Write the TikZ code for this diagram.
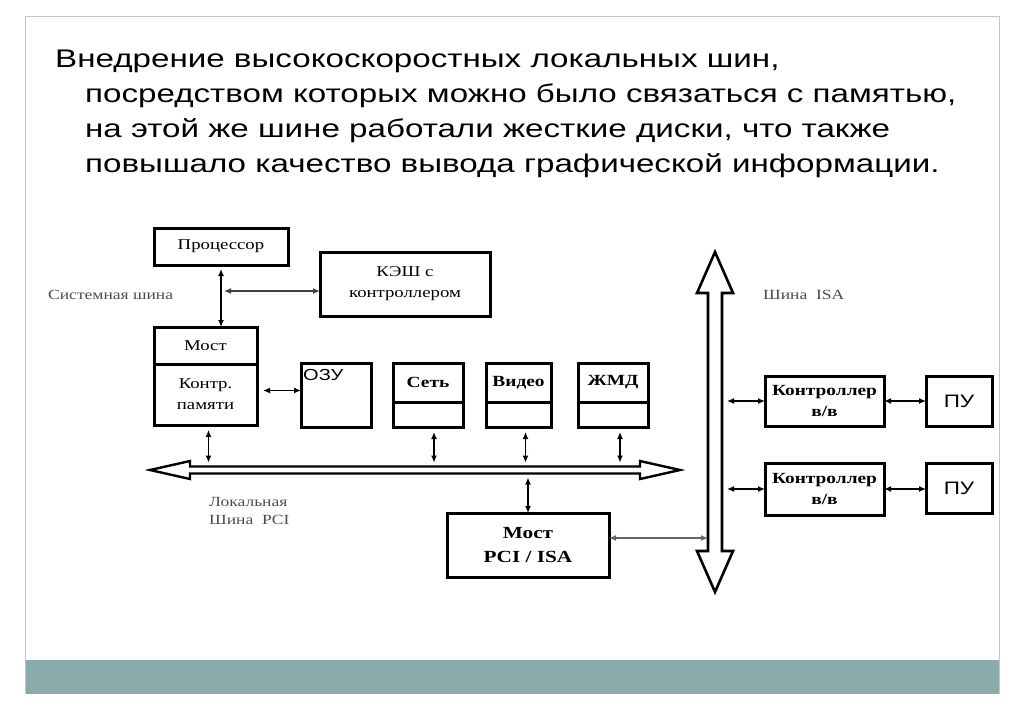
\documentclass[tikz,border=0pt]{standalone}
\usepackage{fontspec}
\setmainfont{Liberation Serif}
\newfontfamily\titlefont{Liberation Sans}[FakeStretch=1.3]
\newfontfamily\boxfont{Liberation Serif}[FakeStretch=1.25]
\newfontfamily\sansbox{Liberation Sans}[FakeStretch=1.25]
\usetikzlibrary{arrows.meta,positioning,calc}
\definecolor{bandteal}{RGB}{138,171,171}
\definecolor{framegray}{RGB}{195,198,198}
\tikzstyle{block} = [draw, rectangle, line width=3pt, outer sep=0pt,
    inner sep=0pt, align=center, font=\boxfont\fontsize{15}{21}\selectfont]
\tikzstyle{boldblock} = [block, font=\boxfont\bfseries\fontsize{15.5}{21}\selectfont]
\tikzstyle{buslabel} = [inner sep=0pt, align=left, text=black!70,
    font=\boxfont\fontsize{14}{18}\selectfont]
\tikzstyle{bus} = [draw, line width=2.6pt, fill=white, line join=miter]
\tikzstyle{coord} = [coordinate]
\tikzstyle{connector} = [{Latex[length=7pt,width=6pt]}-{Latex[length=7pt,width=6pt]}, line width=1.3pt]

\begin{document}
\begin{tikzpicture}[x=1pt,y=-1pt]
		\useasboundingbox (0,0) rectangle (1024,724);
		% slide frame
		\fill[bandteal] (25,660) rectangle (999,694);
		\draw[framegray, line width=1pt] (25,694) -- (25,16) -- (999,16) -- (999,694);
		
		\node[anchor=north west, inner sep=0pt, align=left,
		      font=\titlefont\fontsize{25.5}{35}\selectfont] (title) at (55,50)
		  {Внедрение высокоскоростных локальных шин,\\
		   \hspace*{30pt}посредством которых можно было связаться с памятью,\\
		   \hspace*{30pt}на этой же шине работали жесткие диски, что также\\
		   \hspace*{30pt}повышало качество вывода графической информации.};
		
		% buses
		\draw[bus, line width=2.4pt] (150,470) -- (190,461) -- (190,466.5) -- (640,466.5) -- (640,461) -- (680,470)
		  -- (640,479) -- (640,473.5) -- (190,473.5) -- (190,479) -- cycle;
		\draw[bus] (715,252) -- (733,293) -- (722,293) -- (722,551) -- (733,551) -- (715,592)
		  -- (697,551) -- (708,551) -- (708,293) -- (697,293) -- cycle;
		\node[coord] (pcitop) at (0,466.5) {};
		\node[coord] (pcibot) at (0,473.5) {};
		\node[coord] (isaleft) at (708,0) {};
		\node[coord] (isaright) at (722,0) {};
		\node[coord] (sysbus) at (221,291) {};
		
		\node[block, minimum width=134pt, minimum height=37pt] (cpu) at (221,246.5) {Процессор};
		\node[block, minimum width=170pt, minimum height=64pt] (cache) at (405,284) {КЭШ с\\контроллером};
		\node[block, minimum width=103pt, minimum height=37pt] (most) at (205.5,345.5) {Мост};
		\node[block, minimum width=103pt, minimum height=61pt, below=0pt of most] (memctl) {Контр.\\памяти};
		
		\node[block, minimum width=70pt, minimum height=64pt] (ozu) at (336,395) {};
		\node[anchor=north west, inner sep=0pt, font=\sansbox\fontsize{16}{18}\selectfont] (ozutxt)
		  at ([shift={(2pt,-6pt)}]ozu.north west) {ОЗУ};
		
		\node[boldblock, minimum width=70pt, minimum height=39pt] (net) at (428,382.5) {Сеть};
		\node[block, minimum width=70pt, minimum height=25pt, below=0pt of net] (netlow) {};
		\node[boldblock, minimum width=65pt, minimum height=39pt] (video) at (518.5,382.5) {Видео};
		\node[block, minimum width=65pt, minimum height=25pt, below=0pt of video] (videolow) {};
		\node[boldblock, minimum width=70pt, minimum height=39pt] (hdd) at (613,382.5) {ЖМД};
		\node[block, minimum width=70pt, minimum height=25pt, below=0pt of hdd] (hddlow) {};
		
		\node[boldblock, minimum width=162pt, minimum height=64pt,
		      font=\boxfont\bfseries\fontsize{17}{24}\selectfont] (bridge) at (528,545) {Мост\\PCI / ISA};
		
		\node[boldblock, minimum width=119pt, minimum height=50pt] (ctrla) at (824.5,401) {Контроллер\\в/в};
		\node[block, minimum width=66pt, minimum height=50pt, font=\sansbox\fontsize{18}{20}\selectfont] (pua) at (959,401) {ПУ};
		\node[boldblock, minimum width=119pt, minimum height=52pt] (ctrlb) at (824.5,489) {Контроллер\\в/в};
		\node[block, minimum width=66pt, minimum height=50pt, font=\sansbox\fontsize{18}{20}\selectfont] (pub) at (959,488) {ПУ};
		
		\node[buslabel, anchor=west] (syslabel) at (48,295) {Системная шина};
		\node[buslabel, anchor=north west] (pcilabel) at (209,497) {Локальная\\Шина\ \ PCI};
		\node[buslabel, anchor=west] (isalabel) at (763,295) {Шина\ \ ISA};
		
		\draw[connector, shorten <=4pt] (cpu.south) to (cpu.south |- most.north);
		\draw[connector, black!75, shorten <=3pt] (sysbus) to (sysbus -| cache.west);
		\draw[connector, shorten <=6pt] ([yshift=4pt]memctl.east) to ([yshift=4pt]memctl.east -| ozu.west);
		
		\draw[connector, shorten <=5pt, shorten >=4pt] ([xshift=3pt]memctl.south) to ([xshift=3pt]memctl.south |- pcitop);
		\draw[connector, shorten <=5pt, shorten >=4pt] ([xshift=6pt]netlow.south) to ([xshift=6pt]netlow.south |- pcitop);
		\draw[connector, shorten <=5pt, shorten >=4pt] ([xshift=7pt]videolow.south) to ([xshift=7pt]videolow.south |- pcitop);
		\draw[connector, shorten <=5pt, shorten >=4pt] ([xshift=7pt]hddlow.south) to ([xshift=7pt]hddlow.south |- pcitop);
		\draw[connector, shorten <=4pt] (bridge.north |- pcibot) to (bridge.north);
		\draw[connector, black!60] ([yshift=7pt]bridge.east) to ([yshift=7pt]bridge.east -| isaleft);
		
		\draw[connector, shorten <=5pt] (ctrla.west -| isaright) to (ctrla.west);
		\draw[connector] (ctrla.east) to (pua.west);
		\draw[connector, shorten <=5pt] (ctrlb.west -| isaright) to (ctrlb.west);
		\draw[connector] (ctrlb.east) to (pub.west |- ctrlb.east);
	\end{tikzpicture}
\end{document}
